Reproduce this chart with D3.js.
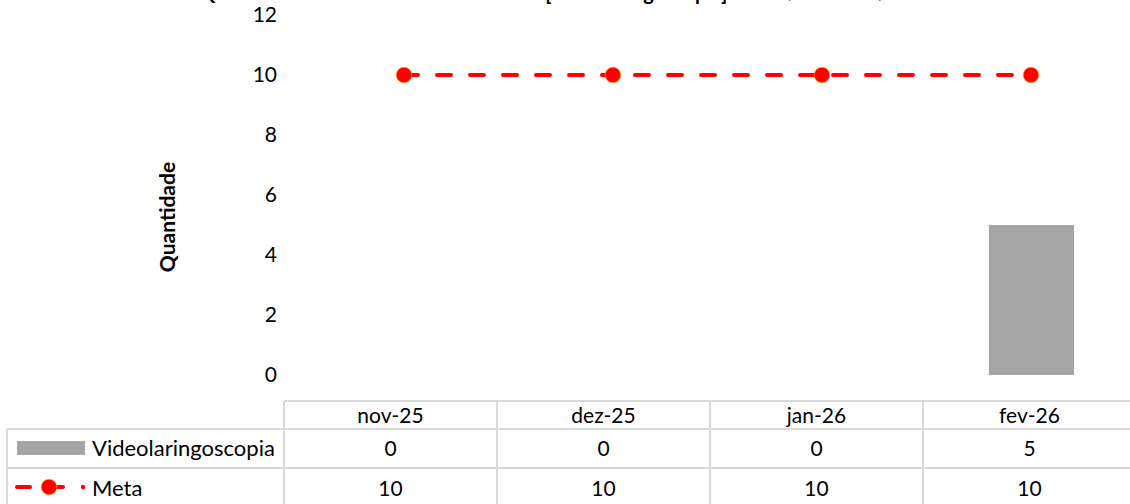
<!DOCTYPE html>
<html lang="pt-BR">
<head>
<meta charset="utf-8">
<script src="https://cdn.jsdelivr.net/npm/d3@7"></script>
<style>
  html, body { margin: 0; padding: 0; background: #fff; }
  svg { display: block; font-family: Lato, "Open Sans", sans-serif; }
</style>
</head>
<body>
<svg id="chart" width="1130" height="504"></svg>
<script>
// Categories (months) and series values
const categories = ["nov-25", "dez-25", "jan-26", "fev-26"];
const videoValues = [0, 0, 0, 5];
const metaValues = [10, 10, 10, 10];
const yTicks = [0, 2, 4, 6, 8, 10, 12];
const seriesNames = ["Videolaringoscopia", "Meta"];
const chartTitle = "QUANTIDADE DE PROCEDIMENTOS [Videolaringoscopia] - NOV/25 A FEV/26";
const yTitle = "Quantidade";

const svg = d3.select("#chart");

const barColor = "#a5a5a5";
const lineColor = "#ff0000";
const gridColor = "#d9d9d9";
const textColor = "#000";

// Scales
const y = d3.scaleLinear().domain([0, 12]).range([375, 15]);
const xTable = d3.scaleBand().domain(categories).range([284, 1136]);
const xBar = d3.scaleBand().domain(categories).range([286, 1138])
  .paddingInner(0.6).paddingOuter(0.3);
const xLine = d3.scalePoint().domain(categories).range([404, 1031]);

// Title (sits at the very top edge, only its lowest strokes fall inside)
svg.append("text")
  .attr("x", 555).attr("y", 0)
  .attr("text-anchor", "middle")
  .attr("font-weight", "bold")
  .attr("font-size", 20)
  .attr("fill", textColor)
  .text(chartTitle);

// Y axis
const yAxis = d3.axisLeft(y).tickValues(yTicks).tickSize(0).tickPadding(7);
const gy = svg.append("g").attr("transform", "translate(284,0)").call(yAxis);
gy.select(".domain").remove();
gy.selectAll("text")
  .attr("font-family", "Lato, 'Open Sans', sans-serif")
  .attr("font-size", 21)
  .attr("fill", textColor);

// Y axis title
svg.append("text")
  .attr("transform", "translate(175,217) rotate(-90)")
  .attr("text-anchor", "middle")
  .attr("font-weight", "bold")
  .attr("font-size", 21)
  .attr("fill", textColor)
  .text(yTitle);

// Bars
svg.append("g").selectAll("rect")
  .data(categories.map((c, i) => ({ c, v: videoValues[i] })))
  .join("rect")
  .attr("x", d => xBar(d.c))
  .attr("width", xBar.bandwidth())
  .attr("y", d => y(d.v))
  .attr("height", d => y(0) - y(d.v))
  .attr("fill", barColor);

// Meta line
const metaData = categories.map((c, i) => ({ c, v: metaValues[i] }));
svg.append("path")
  .datum(metaData)
  .attr("fill", "none")
  .attr("stroke", lineColor)
  .attr("stroke-width", 4)
  .attr("stroke-dasharray", "14,19")
  .attr("stroke-linecap", "round")
  .attr("d", d3.line().x(d => xLine(d.c)).y(d => y(d.v)));

svg.append("g").selectAll("circle")
  .data(metaData)
  .join("circle")
  .attr("cx", d => xLine(d.c))
  .attr("cy", d => y(d.v))
  .attr("r", 7.8)
  .attr("fill", lineColor)
  .attr("stroke", "#ffb000")
  .attr("stroke-width", 0.7);

// Data table
const rowTop = 401, rowHead = 429, rowA = 468, rowB = 508;
const tableLeft = 7, tableRight = 1136;
const grid = svg.append("g")
  .attr("stroke", gridColor)
  .attr("stroke-width", 1.6)
  .attr("shape-rendering", "crispEdges");

grid.append("line").attr("x1", xTable.range()[0]).attr("x2", tableRight)
  .attr("y1", rowTop).attr("y2", rowTop);
[rowHead, rowA].forEach(yy => {
  grid.append("line").attr("x1", tableLeft).attr("x2", tableRight)
    .attr("y1", yy).attr("y2", yy);
});
grid.append("line").attr("x1", tableLeft).attr("x2", tableLeft)
  .attr("y1", rowHead).attr("y2", rowB);
const colEdges = categories.map(c => xTable(c)).concat([xTable.range()[1]]);
colEdges.forEach(xx => {
  grid.append("line").attr("x1", xx).attr("x2", xx)
    .attr("y1", rowTop).attr("y2", rowB);
});

const cellFont = 21;
const cellText = svg.append("g")
  .attr("font-size", cellFont)
  .attr("fill", textColor)
  .attr("text-anchor", "middle");

categories.forEach((c, i) => {
  const cx = xTable(c) + xTable.bandwidth() / 2;
  cellText.append("text").attr("x", cx).attr("y", 423).text(c);
  cellText.append("text").attr("x", cx).attr("y", 456).text(videoValues[i]);
  cellText.append("text").attr("x", cx).attr("y", 496).text(metaValues[i]);
});

// Legend keys in the table's first column
svg.append("rect")
  .attr("x", 17).attr("y", 441).attr("width", 68).attr("height", 14)
  .attr("fill", barColor);

svg.append("line")
  .attr("x1", 17).attr("x2", 30).attr("y1", 487).attr("y2", 487)
  .attr("stroke", lineColor).attr("stroke-width", 4).attr("stroke-linecap", "round");
svg.append("line")
  .attr("x1", 49).attr("x2", 63).attr("y1", 487).attr("y2", 487)
  .attr("stroke", lineColor).attr("stroke-width", 4).attr("stroke-linecap", "round");
svg.append("circle")
  .attr("cx", 49).attr("cy", 487).attr("r", 7.8)
  .attr("fill", lineColor).attr("stroke", "#ffb000").attr("stroke-width", 0.7);
svg.append("circle")
  .attr("cx", 83).attr("cy", 487).attr("r", 2.2)
  .attr("fill", lineColor);

const legText = svg.append("g").attr("font-size", 22).attr("fill", textColor);
legText.append("text").attr("x", 92).attr("y", 456).text(seriesNames[0]);
legText.append("text").attr("x", 92).attr("y", 496).text(seriesNames[1]);
</script>
</body>
</html>
